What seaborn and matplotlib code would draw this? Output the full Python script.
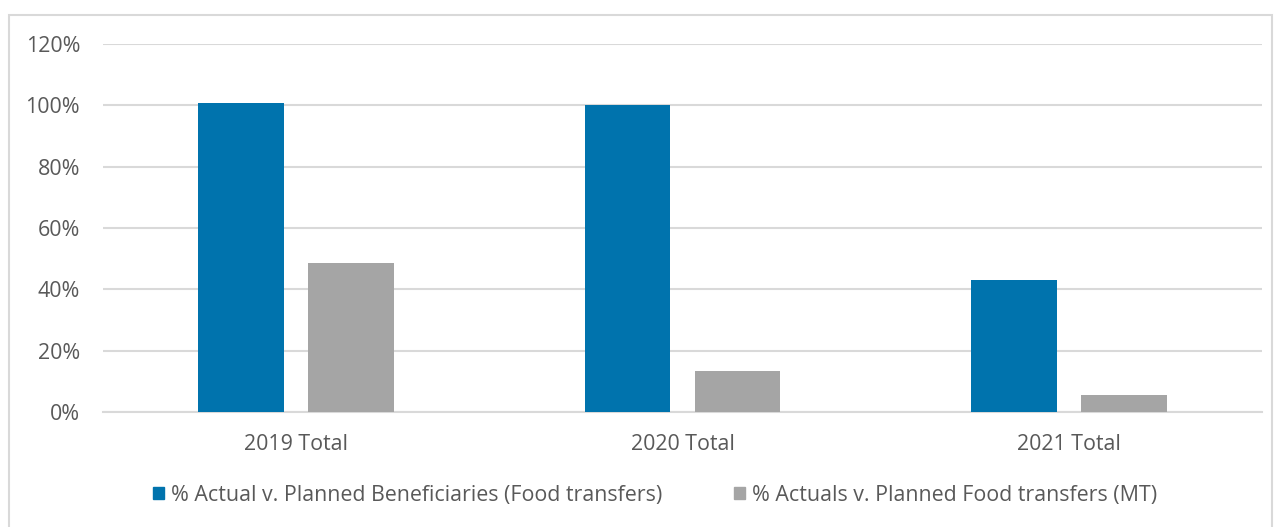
import matplotlib
matplotlib.use("Agg")
import matplotlib.pyplot as plt
from matplotlib.patches import Rectangle
from matplotlib.ticker import FuncFormatter
import seaborn as sns
import pandas as pd

categories = ["2019 Total", "2020 Total", "2021 Total"]
series_names = [
    "% Actual v. Planned Beneficiaries (Food transfers)",
    "% Actuals v. Planned Food transfers (MT)",
]
beneficiaries_pct = [100.8, 100.0, 42.9]
food_transfers_pct = [48.7, 13.4, 5.7]
y_ticks = [0, 20, 40, 60, 80, 100, 120]

df = pd.DataFrame({
    "category": categories * 2,
    "series": [series_names[0]] * 3 + [series_names[1]] * 3,
    "value": beneficiaries_pct + food_transfers_pct,
})

sns.set_theme(style="white")
plt.rcParams["font.family"] = ["Open Sans", "DejaVu Sans"]

FONT = 15.4
TEXT = "#595959"

fig = plt.figure(figsize=(12.78, 5.27), dpi=100)
ax = fig.add_axes([103 / 1278, 1 - 412 / 527, (1262 - 103) / 1278, (412 - 44) / 527])

palette = {series_names[0]: "#0073ad", series_names[1]: "#a5a5a5"}
sns.barplot(data=df, x="category", y="value", hue="series", palette=palette,
            width=0.57, gap=0.22, saturation=1, ax=ax, legend=False,
            linewidth=0, zorder=3)

ax.set_ylim(0, 120)
ax.set_xlim(-0.5, 2.5)
ax.set_yticks(y_ticks)
ax.yaxis.set_major_formatter(FuncFormatter(lambda v, _: f"{v:.0f}%"))
ax.grid(axis="y", color="#d9d9d9", linewidth=1.5, zorder=0)
ax.grid(axis="x", visible=False)
for side in ["top", "right", "left"]:
    ax.spines[side].set_visible(False)
ax.spines["bottom"].set_color("#d9d9d9")
ax.spines["bottom"].set_linewidth(1.5)
ax.tick_params(axis="both", length=0, labelsize=FONT, labelcolor=TEXT)
ax.tick_params(axis="y", pad=16.5)
ax.tick_params(axis="x", pad=16)
ax.set_xlabel("")
ax.set_ylabel("")

# Legend below the plot area
handles = [Rectangle((0, 0), 1, 1, color=palette[s]) for s in series_names]
fig.legend(handles, series_names, loc="center", bbox_to_anchor=(655 / 1278, 1 - 495 / 527),
           ncol=2, frameon=False, fontsize=FONT, labelcolor=TEXT,
           handlelength=0.52, handleheight=0.52, handletextpad=0.33, columnspacing=3.35)

# Chart border
fig.patches.append(Rectangle((9 / 1278, -0.01), (1272 - 9) / 1278, 1 - 15 / 527 + 0.01,
                             transform=fig.transFigure, fill=False,
                             edgecolor="#d9d9d9", linewidth=1.5))

fig.savefig("out.png", dpi=100, facecolor="white")
